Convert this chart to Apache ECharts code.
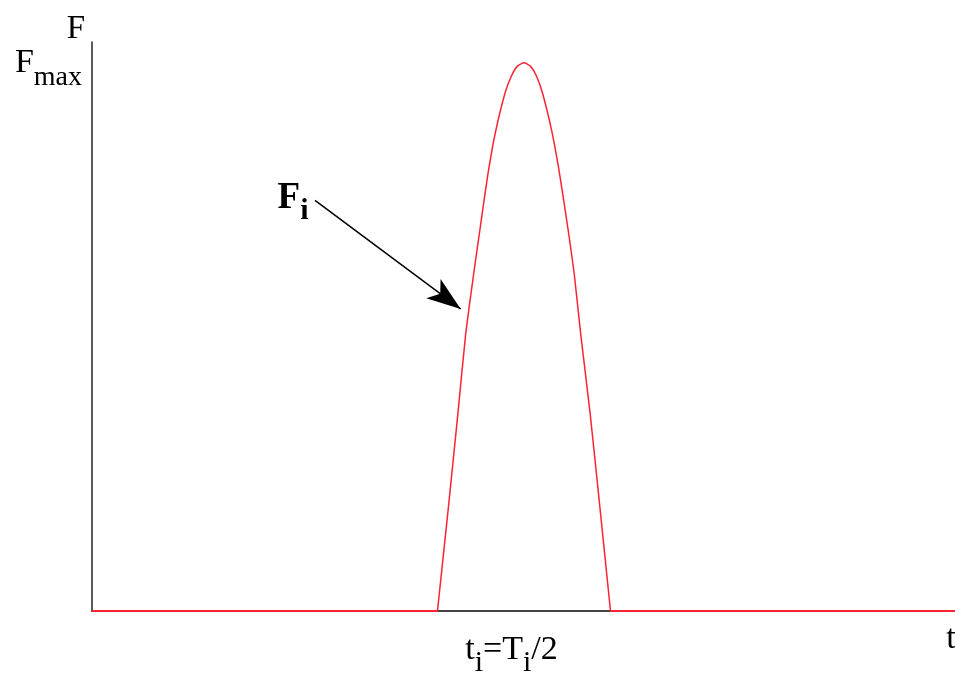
<!DOCTYPE html>
<html>
<head>
<meta charset="utf-8">
<script src="https://cdn.jsdelivr.net/npm/echarts@6/dist/echarts.min.js"></script>
<style>
  html, body { margin: 0; padding: 0; background: #fff; }
  #main { width: 955px; height: 673px; }
</style>
</head>
<body>
<div id="main"></div>
<script>
// 曲线数据 [t, F/Fmax]
const pulseData = [
  [4.003, 0], [4.129, 0.188], [4.241, 0.362], [4.330, 0.505], [4.420, 0.612],
  [4.490, 0.690], [4.542, 0.748], [4.597, 0.806], [4.673, 0.872], [4.786, 0.945],
  [4.860, 0.976], [4.930, 0.994], [5.005, 1.0], [5.080, 0.994], [5.150, 0.976],
  [5.220, 0.945], [5.327, 0.876], [5.403, 0.812], [5.461, 0.754], [5.522, 0.690],
  [5.590, 0.612], [5.663, 0.505], [5.771, 0.362], [5.886, 0.188], [6.008, 0]
];
const baseLeft = [[0, 0], [4.003, 0]];
const baseRight = [[6.008, 0], [10, 0]];

// 箭头 起点/终点
const arrowStart = [2.584, 0.749];
const arrowEnd = [4.272, 0.551];
const labelFi = [2.150, 0.753];

const xMax = 10;
const yMax = 1.038;
const peakValue = 1;
const midValue = 5;

const serif = '"Liberation Serif", "DejaVu Serif", serif';
const red = '#ff2233';

const chart = echarts.init(document.getElementById('main'));

const option = {
  backgroundColor: '#fff',
  animation: false,
  grid: { left: 92, right: 0, top: 42, bottom: 62, outerBoundsMode: 'none' },
  xAxis: {
    type: 'value',
    min: 0,
    max: xMax,
    interval: 5,
    name: '{n|t}',
    nameLocation: 'end',
    nameGap: -4,
    nameTextStyle: {
      align: 'center', verticalAlign: 'middle',
      rich: {
        n: { fontFamily: serif, fontSize: 34, color: '#000', padding: [56, 0, 0, 0] }
      }
    },
    axisLine: { lineStyle: { color: '#444', width: 2 } },
    axisTick: { show: false },
    splitLine: { show: false },
    axisLabel: {
      margin: 12,
      padding: [0, 24, 0, 0],
      formatter: v => (v === midValue ? '{m|t}{s|i}{m|=T}{s|i}{m|/2}' : ''),
      rich: {
        m: { fontFamily: serif, fontSize: 34, color: '#000' },
        s: { fontFamily: serif, fontSize: 30, color: '#000', padding: [25, 0, 0, 0] }
      }
    }
  },
  yAxis: {
    type: 'value',
    min: 0,
    max: yMax,
    interval: 1,
    name: 'F',
    nameLocation: 'end',
    nameGap: 11,
    nameTextStyle: {
      fontFamily: serif, fontSize: 33, color: '#000',
      align: 'right', verticalAlign: 'middle', padding: [0, 7, 0, 0]
    },
    axisLine: { lineStyle: { color: '#222', width: 1.5 } },
    axisTick: { show: false },
    splitLine: { show: false },
    axisLabel: {
      margin: 10,
      formatter: v => (v === peakValue ? '{m|F}{s|max}' : ''),
      rich: {
        m: { fontFamily: serif, fontSize: 34, color: '#000' },
        s: { fontFamily: serif, fontSize: 28, color: '#000', padding: [30, 0, 0, 0] }
      }
    }
  },
  series: [
    {
      type: 'line', data: baseLeft, symbol: 'none',
      lineStyle: { color: red, width: 2 }
    },
    {
      type: 'line', data: baseRight, symbol: 'none',
      lineStyle: { color: red, width: 2 }
    },
    {
      type: 'line', data: pulseData, symbol: 'none', smooth: 0.2,
      lineStyle: { color: red, width: 1.5 },
      markLine: {
        silent: true,
        symbol: ['none', 'arrow'],
        symbolSize: [18, 34],
        label: { show: false },
        lineStyle: { color: '#000', width: 1.5, type: 'solid' },
        data: [[{ coord: arrowStart }, { coord: arrowEnd }]]
      },
      markPoint: {
        silent: true,
        symbol: 'circle',
        symbolSize: 0,
        label: {
          show: true,
          position: 'right',
          distance: 0,
          formatter: '{m|F}{s|i}',
          rich: {
            m: { fontFamily: serif, fontSize: 37, fontWeight: 'bold', color: '#000' },
            s: { fontFamily: serif, fontSize: 30, fontWeight: 'bold', color: '#000', padding: [27, 0, 0, 0] }
          }
        },
        data: [{ coord: labelFi }]
      }
    }
  ]
};

chart.setOption(option);
</script>
</body>
</html>
